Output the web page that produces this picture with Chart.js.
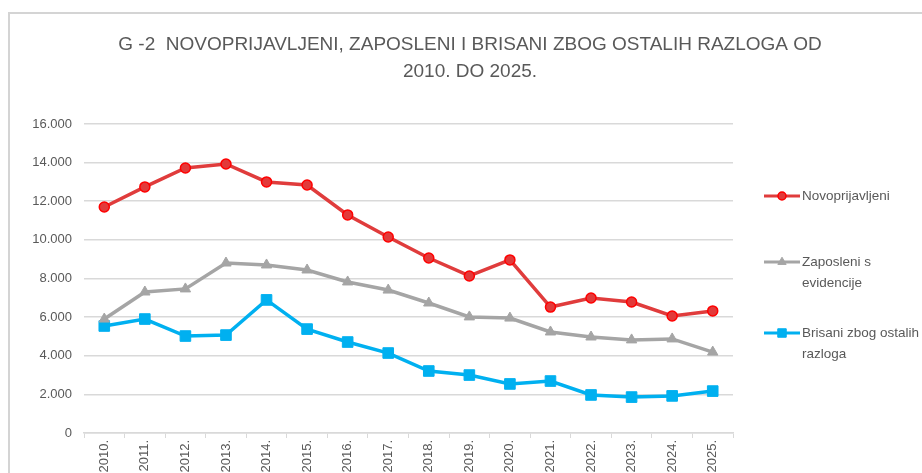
<!DOCTYPE html>
<html>
<head>
<meta charset="utf-8">
<script src="https://cdn.jsdelivr.net/npm/chart.js@4/dist/chart.umd.min.js"></script>
<style>
  html, body { margin: 0; padding: 0; background: #fff; }
  #wrap { position: relative; width: 922px; height: 473px; overflow: hidden; }
  #frame { position: absolute; left: 8px; top: 12px; right: -2px; bottom: -2px;
           border-top: 2px solid #d4d4d4; border-left: 2px solid #d4d4d4; }
  canvas { position: absolute; left: 0; top: 0; }
</style>
</head>
<body>
<div id="wrap">
  <div id="frame"></div>
  <canvas id="chartG2" width="922" height="473"></canvas>
</div>
<script>
// Data
const years = ['2010.', '2011.', '2012.', '2013.', '2014.', '2015.', '2016.', '2017.',
               '2018.', '2019.', '2020.', '2021.', '2022.', '2023.', '2024.', '2025.'];
const novoprijavljeni = [11700, 12740, 13720, 13930, 13000, 12840, 11290, 10150,
                         9060, 8130, 8960, 6520, 6990, 6780, 6060, 6320];
const zaposleni = [5900, 7300, 7460, 8800, 8700, 8440, 7820, 7400,
                   6730, 6010, 5950, 5230, 4970, 4820, 4870, 4190];
const brisani = [5540, 5900, 5020, 5070, 6890, 5380, 4710, 4140,
                 3210, 3000, 2540, 2690, 1970, 1860, 1920, 2170];
const titleLines = ['G -2  NOVOPRIJAVLJENI, ZAPOSLENI I BRISANI ZBOG OSTALIH RAZLOGA OD',
                    '2010. DO 2025.'];
const legendLines = [['Novoprijavljeni'], ['Zaposleni s', 'evidencije'], ['Brisani zbog ostalih', 'razloga']];

const textColor = '#595959';
const gridColor = '#d9d9d9';
const fontFamily = "'Liberation Sans', Arial, sans-serif";

function fmtThousands(v) {
    return v === 0 ? '0' : v.toLocaleString('de-DE');
}

// Legend on the right: short line with the marker, and wrapped text
const sideLegend = {
    id: 'sideLegend',
    afterDraw(chart) {
        const ctx = chart.ctx;
        const rows = [196, 262, 333];
        ctx.save();
        chart.data.datasets.forEach((ds, i) => {
            const y = rows[i];
            ctx.strokeStyle = ds.borderColor;
            ctx.lineWidth = 3;
            ctx.beginPath();
            ctx.moveTo(764, y);
            ctx.lineTo(800, y);
            ctx.stroke();
            ctx.fillStyle = ds.pointBackgroundColor;
            ctx.strokeStyle = ds.pointBorderColor;
            ctx.lineWidth = ds.pointBorderWidth;
            Chart.helpers.drawPoint(ctx, {
                pointStyle: ds.pointStyle,
                radius: ds.pointRadius * 0.8,
                borderWidth: ds.pointBorderWidth
            }, 782, y);
            ctx.fillStyle = textColor;
            ctx.font = '13.5px ' + fontFamily;
            ctx.textBaseline = 'middle';
            ctx.textAlign = 'left';
            legendLines[i].forEach((line, k) => {
                ctx.fillText(line, 802, y + k * 21);
            });
        });
        ctx.restore();
    }
};

const ctx = document.getElementById('chartG2').getContext('2d');
new Chart(ctx, {
    type: 'line',
    data: {
        labels: years,
        datasets: [
            {
                label: 'Novoprijavljeni',
                data: novoprijavljeni,
                borderColor: '#e03c3c',
                borderWidth: 3.5,
                pointStyle: 'circle',
                pointRadius: 5,
                pointBackgroundColor: '#e23a3a',
                pointBorderColor: '#ff0000',
                pointBorderWidth: 1.5,
                tension: 0
            },
            {
                label: 'Zaposleni s evidencije',
                data: zaposleni,
                borderColor: '#a5a5a5',
                borderWidth: 3.5,
                pointStyle: 'triangle',
                pointRadius: 6,
                pointBackgroundColor: '#a5a5a5',
                pointBorderColor: '#a5a5a5',
                pointBorderWidth: 1,
                tension: 0
            },
            {
                label: 'Brisani zbog ostalih razloga',
                data: brisani,
                borderColor: '#00b0f0',
                borderWidth: 3.5,
                pointStyle: 'rect',
                pointRadius: 7.5,
                pointBackgroundColor: '#00b0f0',
                pointBorderColor: '#00b0f0',
                pointBorderWidth: 1,
                tension: 0
            }
        ]
    },
    options: {
        responsive: false,
        animation: false,
        layout: { padding: { left: 18, top: 12, right: 0, bottom: 0 } },
        scales: {
            x: {
                offset: true,
                grid: { offset: true, drawOnChartArea: false, drawTicks: true, tickLength: 5, color: gridColor },
                border: { color: gridColor, width: 1.5 },
                ticks: { minRotation: 90, maxRotation: 90, padding: 2, color: textColor,
                         font: { family: fontFamily, size: 13 }, autoSkip: false },
                afterFit: s => { s.height = 40; }
            },
            y: {
                min: 0,
                max: 16000,
                ticks: { stepSize: 2000, padding: 12, color: textColor,
                         font: { family: fontFamily, size: 13 },
                         callback: v => fmtThousands(v) },
                grid: { color: gridColor, lineWidth: 1.5, drawTicks: false },
                border: { display: false },
                afterFit: s => { s.width = 66; }
            },
            yRight: {
                position: 'right',
                display: true,
                ticks: { display: false },
                grid: { display: false, drawTicks: false },
                border: { display: false },
                afterFit: s => { s.width = 189; }
            }
        },
        plugins: {
            legend: { display: false },
            tooltip: { enabled: false },
            title: {
                display: true,
                text: titleLines,
                color: textColor,
                font: { family: fontFamily, size: 19, weight: 'normal', lineHeight: 1.42 },
                padding: { top: 19, bottom: 39 }
            }
        }
    },
    plugins: [sideLegend]
});
</script>
</body>
</html>
